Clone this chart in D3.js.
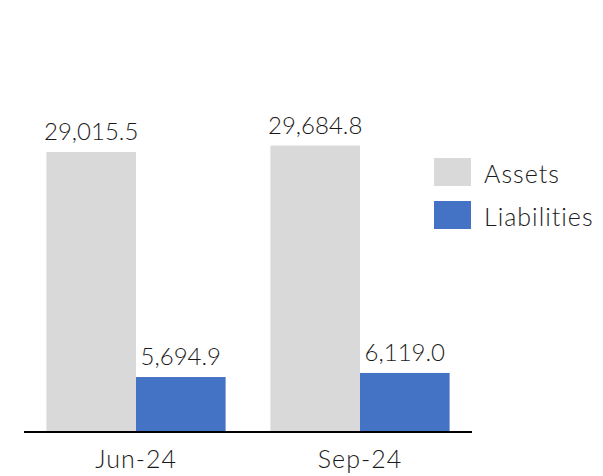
<!DOCTYPE html>
<html>
<head>
<meta charset="utf-8">
<script src="https://cdn.jsdelivr.net/npm/d3@7"></script>
<style>
  body { margin: 0; background: #fff; }
  svg text { font-family: Lato, "Open Sans", sans-serif; font-weight: 300; fill: #1a1a1a; }
</style>
</head>
<body>
<svg id="chart"></svg>
<script>
// donnees
const periods = ["Jun-24", "Sep-24"];
const seriesNames = ["Assets", "Liabilities"];
const assets = [29015.5, 29684.8];
const liabilities = [5694.9, 6119.0];
const seriesColors = ["#d9d9d9", "#4472c4"];

const width = 603;
const height = 476;

const svg = d3.select("#chart")
  .attr("width", width)
  .attr("height", height);

const baseY = 432;

const x0 = d3.scaleBand()
  .domain(periods)
  .range([24, 472])
  .paddingInner(0.2)
  .paddingOuter(0.1);

const x1 = d3.scaleBand()
  .domain(seriesNames)
  .range([0, x0.bandwidth()]);

const y = d3.scaleLinear()
  .domain([0, 35000])
  .range([baseY, baseY - 35000 * 0.00965]);

const fmt = d3.format(",.1f");

const rows = periods.map((p, i) => ({
  period: p,
  values: [
    { name: "Assets", value: assets[i] },
    { name: "Liabilities", value: liabilities[i] }
  ]
}));

const groups = svg.selectAll("g.group")
  .data(rows)
  .enter()
  .append("g")
  .attr("class", "group")
  .attr("transform", d => `translate(${x0(d.period)},0)`);

groups.selectAll("rect")
  .data(d => d.values)
  .enter()
  .append("rect")
  .attr("x", d => x1(d.name))
  .attr("y", d => y(d.value))
  .attr("width", x1.bandwidth())
  .attr("height", d => baseY - y(d.value))
  .attr("fill", (d, i) => seriesColors[i]);

// etiquettes de valeurs
groups.selectAll("text.val")
  .data(d => d.values)
  .enter()
  .append("text")
  .attr("class", "val")
  .attr("x", d => x1(d.name) + x1.bandwidth() / 2)
  .attr("y", d => y(d.value) - 12)
  .attr("text-anchor", "middle")
  .attr("font-size", 24)
  .text(d => fmt(d.value));

// axe x
const xAxis = svg.append("g")
  .attr("transform", `translate(0,${baseY})`)
  .call(d3.axisBottom(x0).tickSize(0).tickPadding(18));
xAxis.select(".domain")
  .attr("d", "M24,0H472")
  .attr("stroke", "#000")
  .attr("stroke-width", 2);
xAxis.selectAll("text")
  .attr("font-size", 25)
  .attr("letter-spacing", 1)
  .attr("font-family", "Lato, sans-serif")
  .attr("font-weight", 300)
  .attr("fill", "#1a1a1a");

// legende
const legend = svg.append("g")
  .attr("transform", "translate(434,158)");
seriesNames.forEach((n, i) => {
  legend.append("rect")
    .attr("x", 0)
    .attr("y", i * 43)
    .attr("width", 37)
    .attr("height", 28)
    .attr("fill", seriesColors[i]);
  legend.append("text")
    .attr("x", 50)
    .attr("y", i * 43 + 15)
    .attr("dominant-baseline", "central")
    .attr("font-size", 25)
    .attr("letter-spacing", 1)
    .text(n);
});
</script>
</body>
</html>
